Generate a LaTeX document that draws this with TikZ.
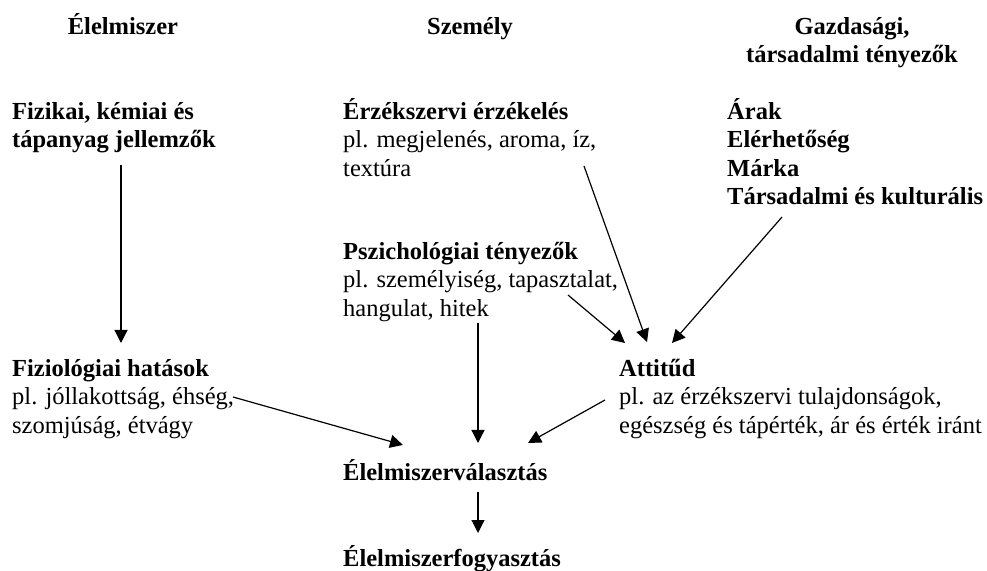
\documentclass[tikz,border=0pt]{standalone}
\usepackage{fontspec}
\setmainfont{Liberation Serif}
\usetikzlibrary{arrows.meta}
\newcommand\bigtxt{\fontsize{24.5}{28.5}\selectfont}
\newcommand\capstrut{\rule{0pt}{23pt}}
\begin{document}
\begin{tikzpicture}[x=1pt,y=1pt,>={Triangle[length=13pt,width=13pt]},
    txt/.style={anchor=north west, inner sep=0pt, align=left, font=\bigtxt},
    head/.style={anchor=north, inner sep=0pt, align=center, font=\bigtxt\bfseries}]
        \useasboundingbox (0,0) rectangle (987,570);
        \node[head] (food) at (123,559) {\capstrut Élelmiszer};
        \node[head] (person) at (470,559) {\capstrut Személy};
        \node[head] (econ) at (852,559) {\capstrut Gazdasági,\\ társadalmi tényezők};
        \node[txt] (phys) at (12,474) {\capstrut\textbf{Fizikai, kémiai és}\\ \textbf{tápanyag jellemzők}};
        \node[txt] (sens) at (343,474) {\capstrut\textbf{Érzékszervi érzékelés}\\ pl. megjelenés, aroma, íz,\\ textúra};
        \node[txt] (price) at (727,474) {\capstrut\textbf{Árak}\\ \textbf{Elérhetőség}\\ \textbf{Márka}\\ \textbf{Társadalmi és kulturális}};
        \node[txt] (psych) at (343,334) {\capstrut\textbf{Pszichológiai tényezők}\\ pl. személyiség, tapasztalat,\\ hangulat, hitek};
        \node[txt] (physio) at (12,217) {\capstrut\textbf{Fiziológiai hatások}\\ pl. jóllakottság, éhség,\\ szomjúság, étvágy};
        \node[txt] (att) at (619,217) {\capstrut\textbf{Attitűd}\\ pl. az érzékszervi tulajdonságok,\\ egészség és tápérték, ár és érték iránt};
        \node[txt] (choice) at (343,113) {\capstrut\textbf{Élelmiszerválasztás}};
        \node[txt] (intake) at (343,27) {\capstrut\textbf{Élelmiszerfogyasztás}};
        \draw[line width=1.2pt, ->] ([shift={(109,-69)}]phys.north west)--([shift={(109,10)}]physio.north west);
        \draw[line width=1.2pt, ->] ([shift={(221,-44)}]physio.north west)--([shift={(60,12)}]choice.north west);
        \draw[line width=1.2pt, ->] ([shift={(241,-70)}]sens.north west)--([shift={(28,11)}]att.north west);
        \draw[line width=1.2pt, ->] ([shift={(225,-59)}]psych.north west)--([shift={(6,10)}]att.north west);
        \draw[line width=1.2pt, ->] ([shift={(135,-87)}]psych.north west)--([shift={(135,14)}]choice.north west);
        \draw[line width=1.2pt, ->] ([shift={(55,-121)}]price.north west)--([shift={(53,10)}]att.north west);
        \draw[line width=1.2pt, ->] ([shift={(-14,-47)}]att.north west)--([shift={(185,14)}]choice.north west);
        \draw[line width=1.2pt, ->] ([shift={(135,-35)}]choice.north west)--([shift={(135,10)}]intake.north west);
    \end{tikzpicture}
\end{document}
